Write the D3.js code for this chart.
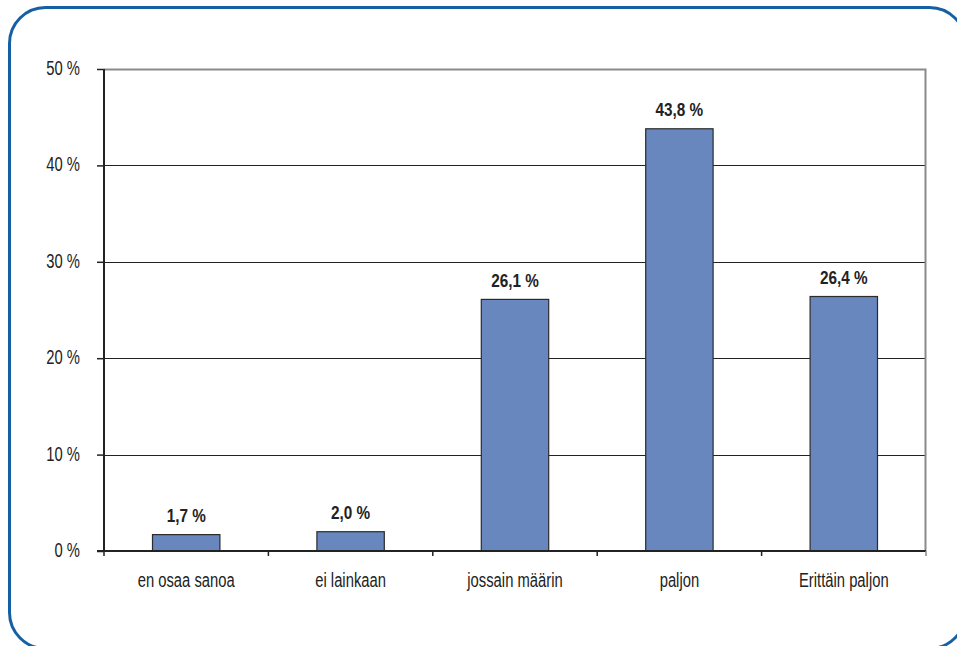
<!DOCTYPE html>
<html>
<head>
<meta charset="utf-8">
<script src="https://cdn.jsdelivr.net/npm/d3@7"></script>
<style>
  body { margin: 0; background: #fff; }
  text { font-family: "Liberation Sans", Arial, sans-serif; fill: #222; }
</style>
</head>
<body>
<div id="chart"></div>
<script>
// chart data
const categories = ["en osaa sanoa", "ei lainkaan", "jossain määrin", "paljon", "Erittäin paljon"];
const values = [1.7, 2.0, 26.1, 43.8, 26.4];
const yTicks = [0, 10, 20, 30, 40, 50];

const width = 957, height = 646;
const margin = { top: 69, right: 31, bottom: 95, left: 104 };
const innerW = width - margin.left - margin.right;
const innerH = height - margin.top - margin.bottom;

// the reference uses a condensed face, so squeeze text horizontally
const squeeze = 0.705;
const squeezeBold = 0.85;

const svg = d3.select("#chart").append("svg")
  .attr("width", width)
  .attr("height", height);

// rounded blue frame
svg.append("rect")
  .attr("x", 9.5).attr("y", 7.5)
  .attr("width", 956).attr("height", 641)
  .attr("rx", 36).attr("ry", 36)
  .attr("fill", "none")
  .attr("stroke", "#155fa3")
  .attr("stroke-width", 3);

const g = svg.append("g")
  .attr("transform", `translate(${margin.left},${margin.top})`);

const x = d3.scaleBand().domain(categories).range([0, innerW]).paddingInner(0.59).paddingOuter(0.295);
const y = d3.scaleLinear().domain([0, 50]).range([innerH, 0]);

// gridlines
g.append("g").selectAll("line")
  .data(yTicks.filter(d => d > 0 && d < 50))
  .join("line")
  .attr("x1", 0).attr("x2", innerW)
  .attr("y1", d => Math.round(y(d)) + 0.5).attr("y2", d => Math.round(y(d)) + 0.5)
  .attr("stroke", "#222").attr("stroke-width", 1);

// plot frame top + right (gray)
g.append("path")
  .attr("d", `M0,0.5H${innerW - 0.5}V${innerH}`)
  .attr("fill", "none")
  .attr("stroke", "#8a8a8a")
  .attr("stroke-width", 2);

// bars
g.append("g").selectAll("rect")
  .data(values)
  .join("rect")
  .attr("x", (d, i) => x(categories[i]))
  .attr("y", d => y(d))
  .attr("width", x.bandwidth())
  .attr("height", d => innerH - y(d))
  .attr("fill", "#6787be")
  .attr("stroke", "#2b2b2b")
  .attr("stroke-width", 1.2);

// value labels
g.append("g").selectAll("text")
  .data(values)
  .join("text")
  .attr("transform", (d, i) =>
    `translate(${x(categories[i]) + x.bandwidth() / 2},${y(d) - 12.5}) scale(${squeezeBold},1)`)
  .attr("text-anchor", "middle")
  .attr("font-size", 18)
  .attr("font-weight", "bold")
  .text(d => d.toFixed(1).replace(".", ",") + " %");

// y axis
const yAxis = g.append("g")
  .call(d3.axisLeft(y).tickValues(yTicks).tickSize(7).tickFormat(d => d + " %"));
yAxis.attr("font-family", null).attr("font-size", null);
yAxis.select(".domain").attr("stroke", "#222").attr("stroke-width", 2).attr("d", `M-7,${innerH}H0V0`);
yAxis.selectAll(".tick line").attr("stroke", "#222").attr("stroke-width", 1.5);
yAxis.selectAll(".tick text")
  .attr("x", null).attr("dy", null)
  .attr("transform", `translate(-24,5.5) scale(${squeeze},1)`)
  .attr("font-size", 21).attr("fill", "#222");

// x axis
const bandEdges = d3.range(categories.length + 1).map(i => i * innerW / categories.length);
const xAxisG = g.append("g").attr("transform", `translate(0,${innerH})`);
xAxisG.append("line")
  .attr("x1", 0).attr("x2", innerW)
  .attr("y1", 0).attr("y2", 0)
  .attr("stroke", "#222").attr("stroke-width", 2);
xAxisG.selectAll(".edge")
  .data(bandEdges)
  .join("line")
  .attr("class", "edge")
  .attr("x1", d => d).attr("x2", d => d)
  .attr("y1", 0).attr("y2", 5)
  .attr("stroke", (d, i) => i === categories.length ? "#8a8a8a" : "#222")
  .attr("stroke-width", 1.5);
xAxisG.selectAll(".lbl")
  .data(categories)
  .join("text")
  .attr("class", "lbl")
  .attr("transform", d => `translate(${x(d) + x.bandwidth() / 2},36) scale(${squeeze},1)`)
  .attr("text-anchor", "middle")
  .attr("font-size", 21)
  .text(d => d);
</script>
</body>
</html>
